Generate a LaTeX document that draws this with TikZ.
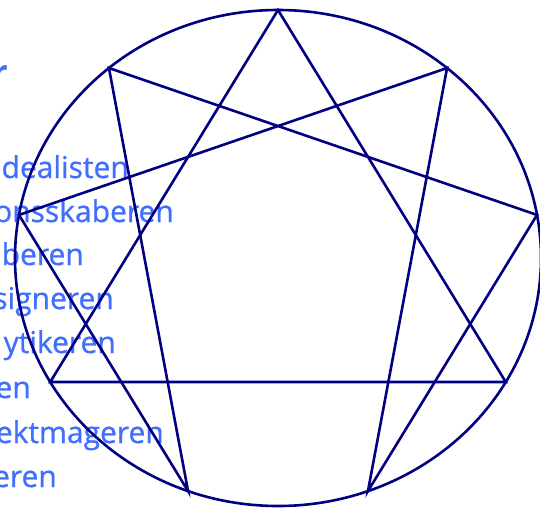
\documentclass[tikz,border=0pt]{standalone}
\usepackage{fontspec}
\setmainfont{Open Sans}
\usetikzlibrary{calc}
\definecolor{linenavy}{RGB}{0,0,128}
\definecolor{textblue}{RGB}{64,110,255}
\begin{document}
\begin{tikzpicture}[x=1pt,y=-1pt,
  enn/.style={draw=linenavy,line width=2.6pt,line join=miter},
  lbl/.style={anchor=base east,text=textblue,font=\fontsize{30}{30}\selectfont\addfontfeature{FakeBold=0.8},inner sep=0pt}]
\useasboundingbox (0,0) rectangle (540,508);
\clip (0,0) rectangle (540,508);
% labels (left, cut off)
\node[lbl,font=\bfseries\fontsize{34}{34}\selectfont] (title) at (8,85) {r};
\node[lbl] (t1) at (129,178) {dealisten};
\node[lbl] (t2) at (174,222) {onsskaberen};
\node[lbl] (t3) at (84,265) {beren};
\node[lbl] (t4) at (114,309) {signeren};
\node[lbl] (t5) at (116,353) {ytikeren};
\node[lbl] (t6) at (31,398) {en};
\node[lbl] (t7) at (164,443) {ektmageren};
\node[lbl] (t8) at (57,487) {eren};
% enneagram points
\coordinate (c) at (278,258);
\foreach \i in {0,...,8}{
  \coordinate (p\i) at ($(c)+({263*sin(40*\i)},{-248*cos(40*\i)})$);
}
\draw[enn] (c) ellipse [x radius=263, y radius=248];
\draw[enn] (p0) -- (p3) -- (p6) -- cycle;
\draw[enn] (p1) -- (p4) -- (p2) -- (p8) -- (p5) -- (p7) -- cycle;
\end{tikzpicture}
\end{document}
